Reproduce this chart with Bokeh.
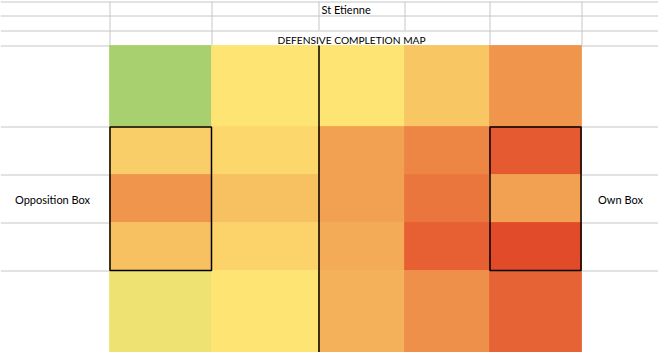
from bokeh.plotting import figure
from bokeh.models import ColumnDataSource, Range1d
from bokeh.transform import linear_cmap
from bokeh.core.properties import value
from bokeh.embed import file_html
from bokeh.resources import INLINE

# ---------------- data ----------------
team = "St Etienne"
map_title = "DEFENSIVE COMPLETION MAP"
left_label = "Opposition Box"
right_label = "Own Box"

# colour-scale position of each pitch zone (0 = green / low, 50 = yellow / mid, 100 = red / high)
# each list runs left (opposition goal) to right (own goal)
row_1 = [0, 50, 50, 60, 76]
row_2 = [58, 55, 72, 81, 95]
row_3 = [76, 62, 72, 86, 72]
row_4 = [62, 56, 69, 93, 100]
row_5 = [40, 50, 67, 78, 92]
zone_rows = [row_1, row_2, row_3, row_4, row_5]

# ---------------- layout (spreadsheet grid, pixels) ----------------
W, H = 658, 352
col_edges = [0, 109, 211, 318, 404, 489, 581, 658]
row_edges = [1, 15, 30, 45, 126, 174, 222, 270, 352]
heat_cols = col_edges[1:7]
heat_rows = row_edges[3:9]

# green - yellow - red colour scale
G, Y, R = (168, 208, 110), (254, 230, 115), (226, 75, 41)
palette = []
for i in range(256):
    t = i / 255
    if t <= 0.5:
        a, b, s = G, Y, t / 0.5
    else:
        a, b, s = Y, R, (t - 0.5) / 0.5
    palette.append("#%02x%02x%02x" % tuple(int(round(a[k] + (b[k] - a[k]) * s)) for k in range(3)))

cells = dict(left=[], right=[], top=[], bottom=[], val=[])
for ri, row in enumerate(zone_rows):
    for ci, v in enumerate(row):
        cells["left"].append(heat_cols[ci])
        cells["right"].append(heat_cols[ci + 1])
        cells["top"].append(heat_rows[ri])
        cells["bottom"].append(heat_rows[ri + 1])
        cells["val"].append(v)

p = figure(width=W, height=H, output_backend="svg", toolbar_location=None,
           x_range=Range1d(0, W), y_range=Range1d(H, 0), min_border=0)
p.axis.visible = False
p.grid.visible = False
p.outline_line_color = None
p.background_fill_color = "white"
p.border_fill_color = "white"

# light spreadsheet gridlines
gx0, gy0, gx1, gy1 = [], [], [], []
for y in row_edges[:4]:
    gx0.append(0); gx1.append(W); gy0.append(y + 0.5); gy1.append(y + 0.5)
for y in row_edges[4:8]:
    for a, b in ((0, col_edges[1]), (col_edges[6], W)):
        gx0.append(a); gx1.append(b); gy0.append(y + 0.5); gy1.append(y + 0.5)
for x in (col_edges[1], col_edges[2], col_edges[5], col_edges[6]):
    gx0.append(x + 0.5); gx1.append(x + 0.5); gy0.append(row_edges[0]); gy1.append(row_edges[3])
for x in (col_edges[3], col_edges[4]):
    gx0.append(x + 0.5); gx1.append(x + 0.5); gy0.append(row_edges[0]); gy1.append(row_edges[2])
p.segment(x0=gx0, y0=gy0, x1=gx1, y1=gy1, line_color="#c6c6c6", line_width=1)

# heat cells
src = ColumnDataSource(cells)
cmap = linear_cmap("val", palette, 0, 100)
p.quad(left="left", right="right", top="top", bottom="bottom", source=src,
       fill_color=cmap, line_color=cmap, line_width=0.8)

# halfway line and the two boxes
p.segment(x0=[col_edges[3] + 0.5], y0=[heat_rows[0]], x1=[col_edges[3] + 0.5], y1=[heat_rows[-1]],
          line_color="black", line_width=1.5)
p.quad(left=[heat_cols[0] + 0.5, heat_cols[4] + 0.5], right=[heat_cols[1], heat_cols[5] - 0.5],
       top=[heat_rows[1] + 0.5, heat_rows[1] + 0.5], bottom=[heat_rows[4], heat_rows[4]],
       fill_color=None, line_color="black", line_width=1.5)

font = value("Lato")
p.text(x=[321], y=[row_edges[1] - 6], text=[team], text_font=font, text_font_size="11px",
       text_align="left", text_baseline="alphabetic", text_color="black")
p.text(x=[351], y=[row_edges[3] - 5.5], text=[map_title], text_font=font, text_font_size="10.2px",
       text_align="center", text_baseline="alphabetic", text_color="black")
p.text(x=[52, 620], y=[198.5, 198.5], text=[left_label, right_label], text_font=font,
       text_font_size="11px", text_align="center", text_baseline="alphabetic", text_color="black")

open("out.html", "w").write(file_html(p, INLINE))
